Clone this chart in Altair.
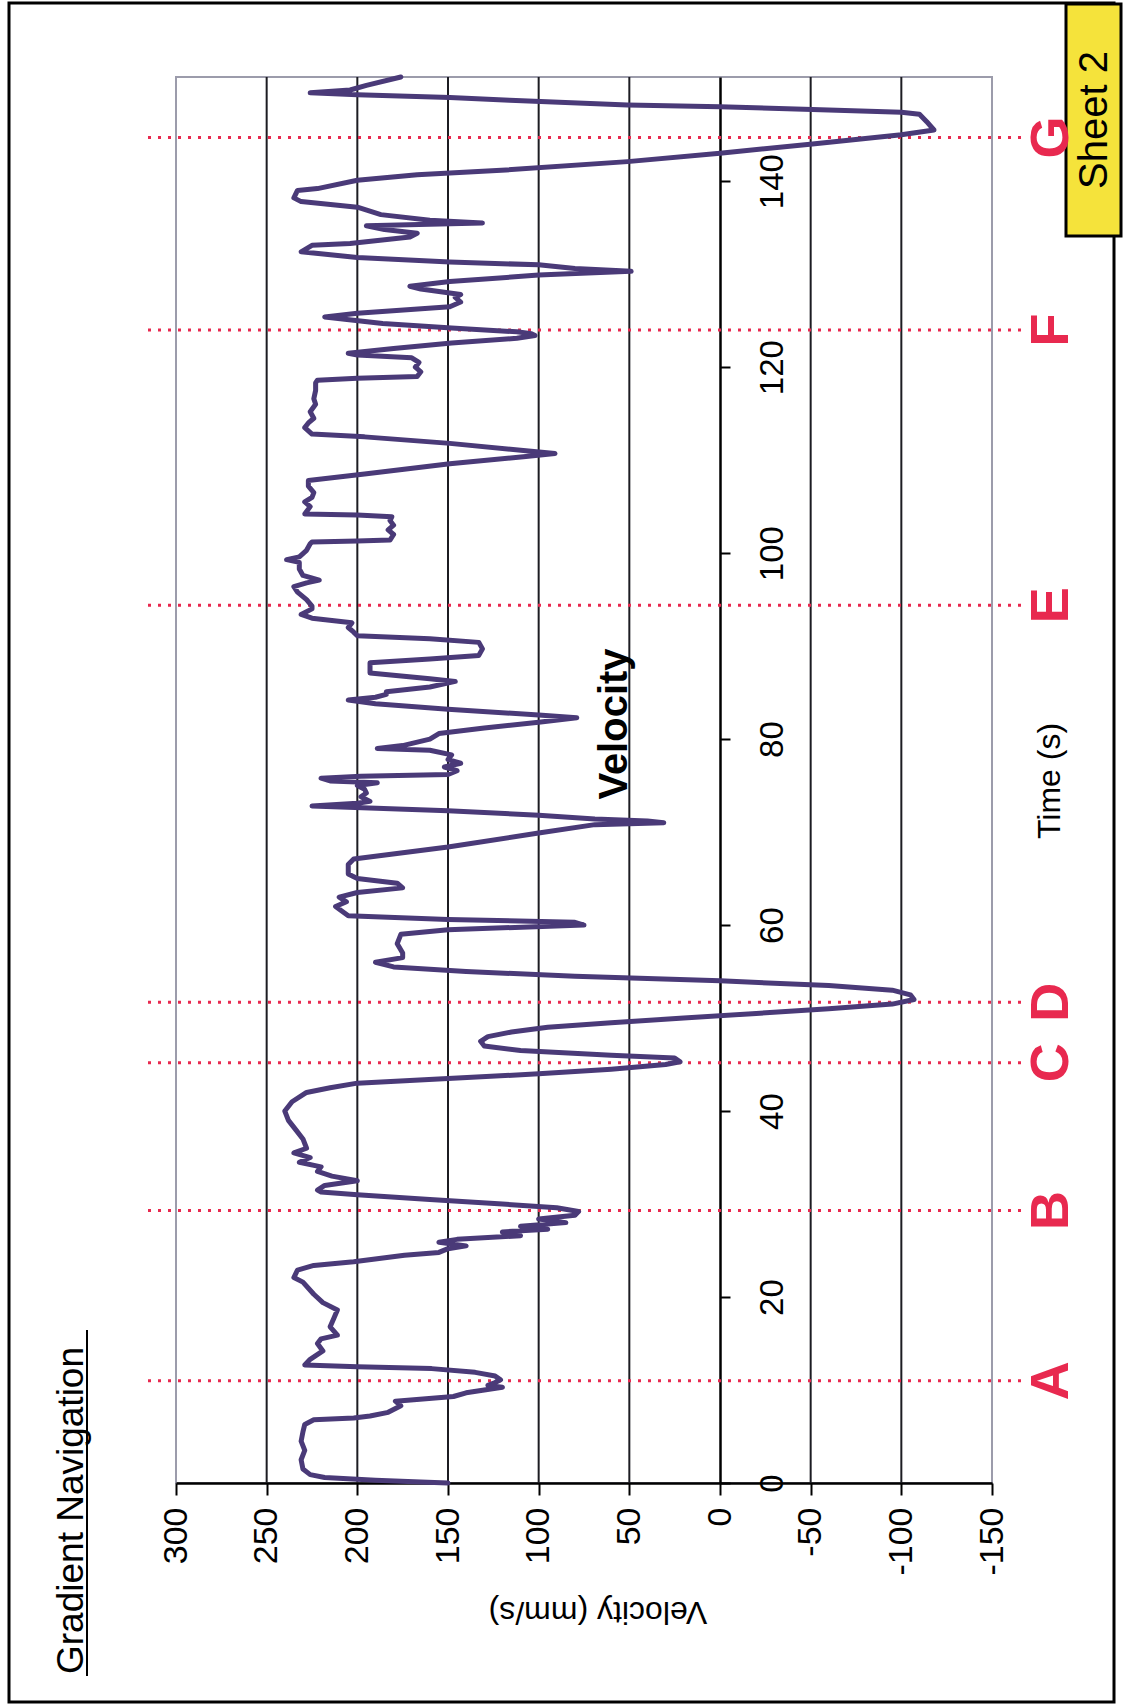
import altair as alt
import pandas as pd

# ---- velocity trace: (time s, velocity mm/s), in time order ----
run_start = [(0.0, 150), (0.1, 165), (0.3, 190), (0.6, 218), (0.9, 226), (1.5, 230), (2.5, 231),
             (3.5, 229), (4.5, 231), (5.5, 230), (6.3, 229), (6.8, 224), (7.0, 202), (7.2, 193),
             (7.6, 183), (8.3, 176), (8.8, 179), (9.3, 147), (9.7, 140), (10.3, 120), (10.5, 128),
             (10.8, 124), (11.1, 121), (11.5, 124), (11.9, 135), (12.3, 159), (12.5, 200)]
run_a_to_b = [(12.7, 229), (13.3, 226), (14.2, 219), (15.0, 222), (15.5, 220), (15.9, 211),
              (16.8, 215), (17.7, 213), (18.6, 211), (19.4, 219), (20.3, 224), (21.6, 230),
              (22.1, 235), (22.9, 233), (23.4, 224), (23.8, 202), (24.5, 174), (24.8, 155),
              (25.2, 150), (25.5, 140), (25.9, 155), (26.2, 145), (26.6, 110), (27.0, 120),
              (27.3, 95), (27.6, 110), (28.0, 85), (28.4, 100), (28.8, 80), (29.2, 78), (29.6, 90),
              (30.0, 120), (30.5, 160), (31.0, 200), (31.3, 220)]
run_b_to_e = [(31.5, 222), (32.0, 218), (32.5, 200), (33.0, 214), (33.5, 222), (34.0, 220),
              (34.5, 232), (35.0, 226), (35.5, 235), (36.0, 228), (37.0, 230), (38.0, 234),
              (39.0, 238), (40.0, 240), (41.0, 236), (42.0, 228), (42.5, 215), (43.0, 200),
              (43.5, 150), (44.0, 100), (44.5, 60), (45.0, 30), (45.3, 22), (45.7, 25), (46.0, 60),
              (46.5, 110), (47.0, 130), (47.5, 132), (48.0, 128), (48.5, 115), (49.0, 95),
              (49.5, 60), (50.0, 20), (50.5, -20), (51.0, -60), (51.5, -95), (52.0, -107),
              (52.5, -105), (53.0, -95), (53.5, -60), (54.0, 0), (54.5, 80), (55.0, 140),
              (55.5, 180), (56.0, 190), (56.5, 175), (57.0, 175), (58.0, 178), (59.0, 176),
              (59.5, 150), (60.0, 75), (60.3, 80), (60.6, 150), (61.0, 205), (62.0, 212),
              (62.5, 206), (63.0, 210), (63.5, 200), (64.0, 175), (64.5, 178), (65.0, 200),
              (65.5, 205), (66.5, 205), (67.1, 202), (68.4, 150), (69.9, 100), (70.8, 69),
              (71.0, 31), (71.2, 40), (71.4, 69), (71.8, 100), (72.3, 150), (72.8, 225),
              (73.1, 200), (73.3, 193), (73.8, 198), (74.2, 195), (74.6, 196), (75.0, 200),
              (75.3, 189), (75.5, 215), (75.8, 220), (76.0, 198), (76.2, 150), (76.6, 145),
              (77.0, 152), (77.4, 143), (77.8, 150), (78.3, 148), (78.8, 160), (79.0, 189),
              (79.3, 175), (80.0, 160), (80.6, 155), (81.2, 130), (81.8, 100), (82.3, 79),
              (82.6, 100), (83.2, 150), (83.8, 190), (84.2, 205), (84.5, 190), (84.8, 184),
              (85.1, 184), (85.6, 160), (86.2, 146), (86.5, 160), (87.1, 193), (87.6, 193),
              (88.2, 193), (88.6, 160), (89.0, 133), (89.7, 131), (90.4, 133), (90.8, 160),
              (91.1, 200), (91.5, 202), (92.0, 205), (92.5, 203), (93.0, 225), (93.4, 231)]
run_e_to_g = [(94.0, 225), (94.3, 225), (95.0, 228), (95.8, 233), (96.4, 235), (96.8, 228),
              (97.1, 221), (97.6, 230), (98.3, 232), (99.0, 232), (99.3, 239), (99.6, 232),
              (100.3, 228), (101.0, 226), (101.2, 225), (101.3, 200), (101.4, 182), (102.0, 180),
              (102.5, 183), (103.0, 180), (103.5, 182), (103.9, 181), (104.1, 200), (104.2, 229),
              (105.0, 226), (105.5, 229), (106.0, 225), (106.5, 224), (107.2, 227), (107.8, 227),
              (108.5, 196), (109.6, 149), (110.4, 107), (110.7, 91), (111.0, 107), (111.8, 149),
              (112.5, 196), (112.8, 225), (113.5, 229), (114.0, 227), (114.5, 224), (115.2, 226),
              (116.0, 223), (116.6, 224), (117.5, 223), (118.3, 223), (118.6, 222), (118.8, 200),
              (119.0, 167), (119.5, 165), (120.0, 168), (120.5, 166), (121.0, 170), (121.3, 200),
              (121.5, 205), (122.0, 180), (122.6, 148), (123.1, 112), (123.4, 102), (123.6, 104),
              (123.8, 112), (124.2, 148), (124.7, 186), (125.4, 218), (125.8, 200), (126.5, 149),
              (127.0, 143), (127.5, 146), (127.8, 143), (128.4, 165), (128.7, 171), (129.2, 149),
              (129.9, 100), (130.3, 49), (130.6, 80), (131.0, 100), (131.3, 149), (131.8, 200),
              (132.4, 231), (133.1, 225), (133.3, 204), (134.0, 171), (134.4, 167), (134.8, 185),
              (135.2, 195), (135.5, 131), (135.8, 160), (136.4, 187), (137.2, 200), (137.8, 231),
              (138.2, 235), (139.0, 233), (139.2, 222), (140.1, 200), (140.7, 167), (141.2, 118)]
run_end = [(142.1, 51), (143.0, 0), (144.0, -51), (145.0, -100), (145.5, -118), (146.4, -114),
           (147.2, -110), (147.4, -100), (147.7, -51), (148.0, 0), (148.2, 51), (148.7, 116),
           (149.0, 149), (149.3, 200), (149.5, 226), (149.8, 204), (150.3, 195), (151.2, 176)]

# ---- event markers ----
marker_labels = ["A", "B", "C", "D", "E", "F", "G"]
marker_times = [11.0, 29.3, 45.2, 51.7, 94.4, 124.0, 144.7]

# ---- axes ----
velocity_ticks = [300, 250, 200, 150, 100, 50, 0, -50, -100, -150]
grid_values = [250, 200, 150, 100, 50, -50, -100]
time_ticks = [0, 20, 40, 60, 80, 100, 120, 140]

# ---- styling ----
FONT = "Liberation Sans"
LINE = "#4a3a78"
RED = "#e8294f"
FRAME_GRAY = "#9c9cab"

W, H = 816, 1406          # plot area (velocity across, time upward)
PAD_L, PAD_T = 176, 77    # plot origin on the page
PAGE_W, PAGE_H = 1123, 1706

trace = pd.DataFrame(run_start + run_a_to_b + run_b_to_e + run_e_to_g + run_end,
                     columns=["time", "velocity"])
trace["order"] = range(len(trace))
markers = pd.DataFrame({"label": marker_labels, "time": marker_times})
grid = pd.DataFrame({"velocity": grid_values})
one = pd.DataFrame({"k": [0]})

x_scale = alt.Scale(domain=[-150, 300], reverse=True, nice=False, zero=False)
y_scale = alt.Scale(domain=[0, 151.2], nice=False, zero=False)
zero_offset = -(W - W * 300 / 450)   # time axis sits on the zero-velocity line


def px(x):
    return x - PAD_L


def py(y):
    return y - PAD_T


velocity_axis = alt.Axis(
    values=velocity_ticks, title=None, grid=False,
    labelExpr="'' + datum.value",     # plain hyphen for negatives
    labelAngle=270, labelAlign="right", labelBaseline="middle",
    labelFont=FONT, labelFontSize=34, labelColor="black", labelPadding=12,
    labelOverlap=False, labelFlush=False,
    tickSize=12, tickWidth=2, tickColor="black",
    domainColor="black", domainWidth=2.5,
)
time_axis = alt.Axis(
    orient="right", offset=zero_offset, values=time_ticks, title=None, grid=False,
    labelAngle=270, labelAlign="center", labelBaseline="top",
    labelFont=FONT, labelFontSize=33, labelColor="black", labelPadding=26,
    labelOverlap=False, labelFlush=False,
    tickSize=10, tickWidth=2, tickColor="black",
    domainColor="black", domainWidth=2.5,
)
vel_x = alt.X("velocity:Q", scale=x_scale, axis=velocity_axis)
time_y = alt.Y("time:Q", scale=y_scale, axis=time_axis)

page_frame = alt.Chart(one).mark_rect(filled=False, color="black", strokeWidth=3).encode(
    x=alt.value(px(9)), x2=alt.value(px(1114)), y=alt.value(py(3)), y2=alt.value(py(1702)))

sheet_box = alt.Chart(one).mark_rect(fill="#f5e33b", stroke="black", strokeWidth=3).encode(
    x=alt.value(px(1066)), x2=alt.value(px(1121)), y=alt.value(py(4)), y2=alt.value(py(236)))
sheet_text = alt.Chart(one).mark_text(
    text="Sheet 2", angle=270, font=FONT, fontSize=40, color="black",
    align="center", baseline="middle").encode(x=alt.value(px(1095)), y=alt.value(py(120)))

grid_lines = alt.Chart(grid).mark_rule(color="#1c1c22", strokeWidth=2).encode(x=vel_x)

marker_rules = alt.Chart(markers).mark_rule(color=RED, strokeWidth=3, strokeDash=[3, 7]).encode(
    y=time_y, x=alt.value(px(148)), x2=alt.value(px(1022)))

marker_text = alt.Chart(markers).mark_text(
    angle=270, font=FONT, fontSize=54, fontWeight="bold", color=RED,
    align="center", baseline="middle").encode(
    y=time_y, x=alt.value(px(1052)), text="label:N")

velocity_line = alt.Chart(trace).mark_line(
    color=LINE, strokeWidth=5, strokeJoin="round", strokeCap="round").encode(
    x=vel_x, y=time_y, order="order:Q")

chart_title = alt.Chart(one).mark_text(
    text="Velocity", angle=270, font=FONT, fontSize=40, fontWeight="bold", color="black",
    align="center", baseline="middle").encode(x=alt.value(px(615)), y=alt.value(py(724)))

time_title = alt.Chart(one).mark_text(
    text="Time (s)", angle=270, font=FONT, fontSize=32, color="black",
    align="center", baseline="middle").encode(x=alt.value(px(1050)), y=alt.value(py(781)))

velocity_title = alt.Chart(one).mark_text(
    text="Velocity (mm/s)", angle=180, font=FONT, fontSize=32, color="black",
    align="center", baseline="middle").encode(x=alt.value(px(598)), y=alt.value(py(1612)))

heading = alt.Chart(one).mark_text(
    text="Gradient Navigation", angle=270, font=FONT, fontSize=37, color="black",
    align="left", baseline="alphabetic").encode(x=alt.value(px(83)), y=alt.value(py(1674)))
heading_rule = alt.Chart(one).mark_rule(color="black", strokeWidth=2).encode(
    x=alt.value(px(87)), y=alt.value(py(1330)), y2=alt.value(py(1676)))

chart = alt.layer(
    page_frame, sheet_box, sheet_text, grid_lines, marker_rules, velocity_line,
    marker_text, chart_title, time_title, velocity_title, heading, heading_rule,
).properties(
    width=W, height=H,
    padding={"left": PAD_L, "top": PAD_T, "right": PAGE_W - PAD_L - W,
             "bottom": PAGE_H - PAD_T - H},
    autosize=alt.AutoSizeParams(type="none"),
    background="white",
).configure_view(stroke=FRAME_GRAY, strokeWidth=2)

chart.save("out.html", embed_options={"renderer": "svg", "actions": False})
